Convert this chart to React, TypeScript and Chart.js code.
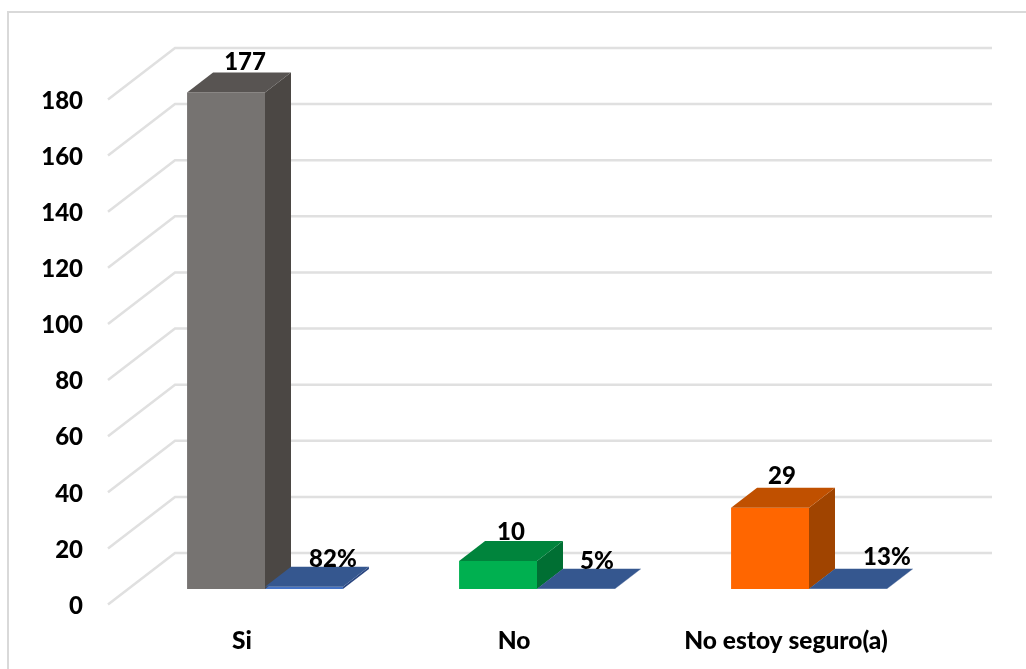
import { useEffect, useRef } from "react";
import { Chart, registerables } from "chart.js";

Chart.register(...registerables);

const categories = ["Si", "No", "No estoy seguro(a)"];
const counts = [177, 10, 29];
const shares = [0.82, 0.05, 0.13];
const yTickStep = 20;
const yMax = 180;

const FONT = "Lato, Carlito, sans-serif";
const countFront = ["#767371", "#00b050", "#ff6600"];
const countTop = ["#585452", "#00843c", "#c05000"];
const countSide = ["#4b4744", "#006f33", "#a04400"];
const shareFront = "#4472c4";
const shareTop = "#35578f";
const shareSide = "#2a4680";

// Depth of the 3D projection.
const DX = 26;
const DY = 20;
// Label nudges relative to the centre of each bar's front face (px).
const countLabelShift = [[19, -30], [13, -29], [12, -31]];
const shareLabelShift = [[29, -30], [21, -28], [39, -32]];

const poly = (ctx: CanvasRenderingContext2D, pts: number[][], fill: string) => {
  ctx.beginPath();
  pts.forEach(([x, y], i) => (i ? ctx.lineTo(x, y) : ctx.moveTo(x, y)));
  ctx.closePath();
  ctx.fillStyle = fill;
  ctx.fill();
};

const framePlugin = {
  id: "frame",
  beforeDraw(chart: any) {
    const { ctx, width, height } = chart;
    ctx.save();
    ctx.fillStyle = "#ffffff";
    ctx.fillRect(0, 0, width, height);
    ctx.strokeStyle = "#d9d9d9";
    ctx.lineWidth = 2;
    ctx.beginPath();
    ctx.moveTo(8, height);
    ctx.lineTo(8, 12);
    ctx.lineTo(width, 12);
    ctx.stroke();
    ctx.restore();
  },
};

const gridPlugin = {
  id: "grid3d",
  beforeDatasetsDraw(chart: any) {
    const { ctx, scales } = chart;
    const y = scales.y;
    ctx.save();
    ctx.strokeStyle = "#e0e0e0";
    ctx.lineWidth = 2.5;
    y.ticks.forEach((t: any) => {
      const py = y.getPixelForValue(t.value);
      ctx.beginPath();
      ctx.moveTo(108, py + 15.5);
      ctx.lineTo(175, py - 36);
      ctx.lineTo(992, py - 36);
      ctx.stroke();
    });
    ctx.restore();
  },
};

const facesPlugin = {
  id: "faces3d",
  afterDatasetsDraw(chart: any) {
    const { ctx } = chart;
    ctx.save();
    chart.data.datasets.forEach((ds: any, di: number) => {
      chart.getDatasetMeta(di).data.forEach((bar: any, i: number) => {
        const l = bar.x - bar.width / 2;
        const r = bar.x + bar.width / 2;
        const top = bar.y;
        const base = bar.base;
        const topCol = di === 0 ? countTop[i] : shareTop;
        const sideCol = di === 0 ? countSide[i] : shareSide;
        poly(ctx, [[r, top], [r + DX, top - DY], [r + DX, base - DY], [r, base]], sideCol);
        poly(ctx, [[l, top], [l + DX, top - DY], [r + DX, top - DY], [r, top]], topCol);
      });
    });
    ctx.font = `900 24px ${FONT}`;
    ctx.fillStyle = "#000000";
    ctx.textAlign = "center";
    ctx.textBaseline = "middle";
    chart.getDatasetMeta(0).data.forEach((bar: any, i: number) => {
      const [sx, sy] = countLabelShift[i];
      ctx.fillText(String(counts[i]), bar.x + sx, bar.y + sy);
    });
    chart.getDatasetMeta(1).data.forEach((bar: any, i: number) => {
      const [sx, sy] = shareLabelShift[i];
      ctx.fillText(`${Math.round(shares[i] * 100)}%`, bar.x + sx, bar.base + sy);
    });
    ctx.restore();
  },
};

export default function App() {
  const ref = useRef<HTMLCanvasElement | null>(null);
  useEffect(() => {
    if (!ref.current) return;
    const chart = new Chart(ref.current, {
      type: "bar",
      data: {
        labels: categories,
        datasets: [
          { label: "Cantidad", data: counts, backgroundColor: countFront, borderWidth: 0 },
          { label: "Porcentaje", data: shares, backgroundColor: shareFront, borderWidth: 0 },
        ],
      },
      plugins: [framePlugin, gridPlugin, facesPlugin],
      options: {
        responsive: false,
        animation: false,
        layout: { padding: { top: 84, right: 81, bottom: 0, left: 0 } },
        plugins: { legend: { display: false }, title: { display: false }, tooltip: { enabled: false } },
        datasets: { bar: { categoryPercentage: 0.573, barPercentage: 1 } },
        scales: {
          x: {
            grid: { display: false, drawTicks: false },
            border: { display: false },
            afterFit: (s: any) => { s.height = 80; },
            ticks: {
              color: "#000000",
              font: { family: FONT, size: 24.5, weight: "900" },
              padding: 37,
              labelOffset: -23,
              maxRotation: 0,
              autoSkip: false,
            },
          },
          y: {
            min: 0,
            max: yMax,
            grid: { display: false, drawTicks: false },
            border: { display: false },
            afterFit: (s: any) => { s.width = 129; },
            ticks: {
              stepSize: yTickStep,
              color: "#000000",
              font: { family: FONT, size: 24, weight: "900" },
              padding: 46,
              labelOffset: 17,
            },
          },
        },
      },
    } as any);
    return () => chart.destroy();
  }, []);
  return (
    <div style={{ position: "absolute", left: 0, top: 0, width: 1026, height: 669, overflow: "hidden" }}>
      <canvas ref={ref} width={1026} height={669} style={{ display: "block" }} />
    </div>
  );
}
